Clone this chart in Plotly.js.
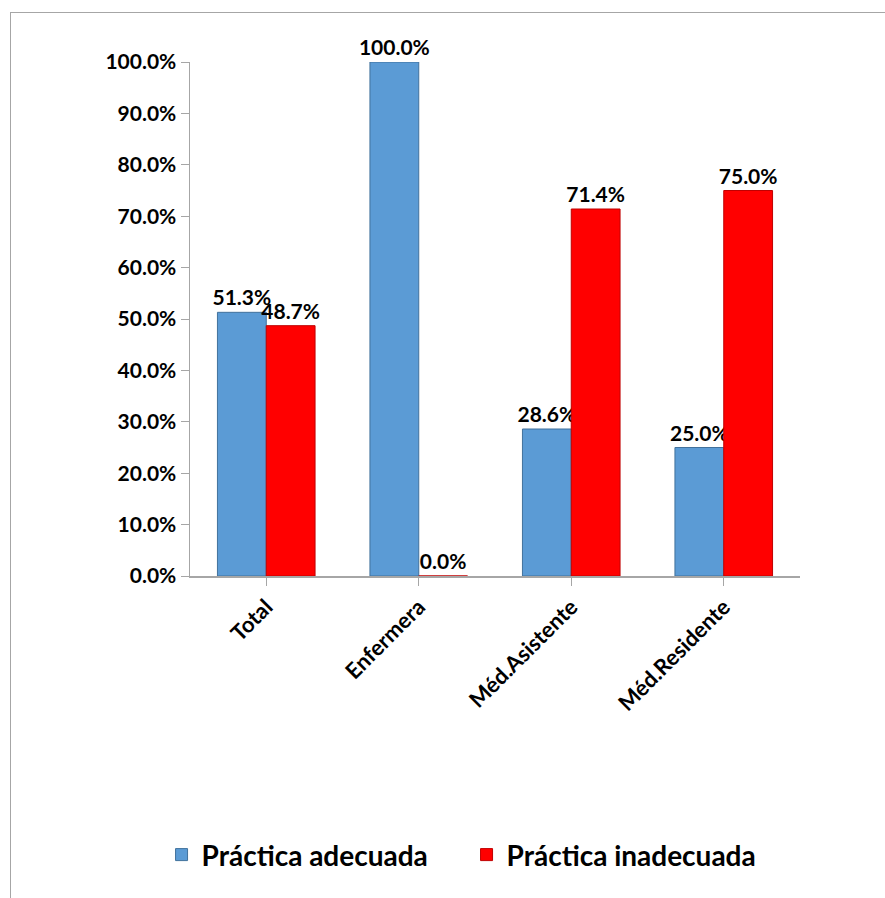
<!DOCTYPE html>
<html>
<head>
<meta charset="utf-8">
<script src="https://cdn.plot.ly/plotly-3.0.1.min.js"></script>
<style>
  html, body { margin: 0; padding: 0; background: #fff; }
  #wrap { position: relative; width: 885px; height: 898px; }
  #frame { position: absolute; left: 10px; top: 12px; right: 0; bottom: 0;
           border-top: 1.5px solid #a6a6a6; border-left: 1.5px solid #a6a6a6; pointer-events: none; }
  #chart { position: absolute; left: 0; top: 0; width: 885px; height: 898px; }
</style>
</head>
<body>
<div id="wrap">
  <div id="chart"></div>
  <div id="frame"></div>
</div>
<script>
// Staff groups and share of adequate / inadequate practice
const categories = ['Total', 'Enfermera', 'Méd.Asistente', 'Méd.Residente'];
const adecuada   = [0.513, 1.000, 0.286, 0.250];
const inadecuada = [0.487, 0.000, 0.714, 0.750];
const seriesNames = ['Práctica adecuada', 'Práctica inadecuada'];
const yTicks = [0, 0.1, 0.2, 0.3, 0.4, 0.5, 0.6, 0.7, 0.8, 0.9, 1.0];

const FONT = 'Lato, "Open Sans", sans-serif';
const pct = v => (v * 100).toFixed(1) + '%';

const mkTrace = (vals, name, color, line) => ({
  type: 'bar',
  x: categories,
  y: vals,
  name: name,
  marker: { color: color, line: { color: line, width: 1 } },
  text: vals.map(pct),
  textposition: 'outside',
  constraintext: 'none',
  cliponaxis: false,
  textfont: { family: FONT, size: 21, color: '#000', weight: 'bold' },
  hoverinfo: 'x+y'
});

const data = [
  mkTrace(adecuada, seriesNames[0], '#5b9bd5', '#41719c'),
  mkTrace(inadecuada, seriesNames[1], '#ff0000', '#c00000')
];

const layout = {
  width: 885,
  height: 898,
  margin: { l: 190, r: 85, t: 62, b: 322, autoexpand: false },
  paper_bgcolor: 'rgba(0,0,0,0)',
  plot_bgcolor: 'rgba(0,0,0,0)',
  font: { family: FONT, color: '#000' },
  barmode: 'group',
  bargap: 0.36,
  bargroupgap: 0,
  showlegend: true,
  legend: {
    orientation: 'h',
    xref: 'container', yref: 'container',
    x: 0.53, xanchor: 'center',
    y: 0.048, yanchor: 'middle',
    font: { family: FONT, size: 28, weight: 'bold' },
    entrywidthmode: 'fraction',
    entrywidth: 0.5,
    itemwidth: 30,
    itemclick: false
  },
  xaxis: {
    type: 'category',
    showline: true, linecolor: '#a6a6a6', linewidth: 1.5,
    ticks: 'outside', tickcolor: '#a6a6a6', ticklen: 8,
    tickangle: -45,
    tickfont: { family: FONT, size: 22, weight: 'bold' },
    showgrid: false, zeroline: false
  },
  yaxis: {
    range: [0, 1],
    tickvals: yTicks,
    ticktext: yTicks.map(pct),
    showline: true, linecolor: '#a6a6a6', linewidth: 1.5,
    ticks: 'outside', tickcolor: '#a6a6a6', ticklen: 8,
    tickfont: { family: FONT, size: 21, weight: 'bold' },
    showgrid: false, zeroline: false
  }
};

Plotly.newPlot('chart', data, layout, { displayModeBar: false, staticPlot: true });
</script>
</body>
</html>
